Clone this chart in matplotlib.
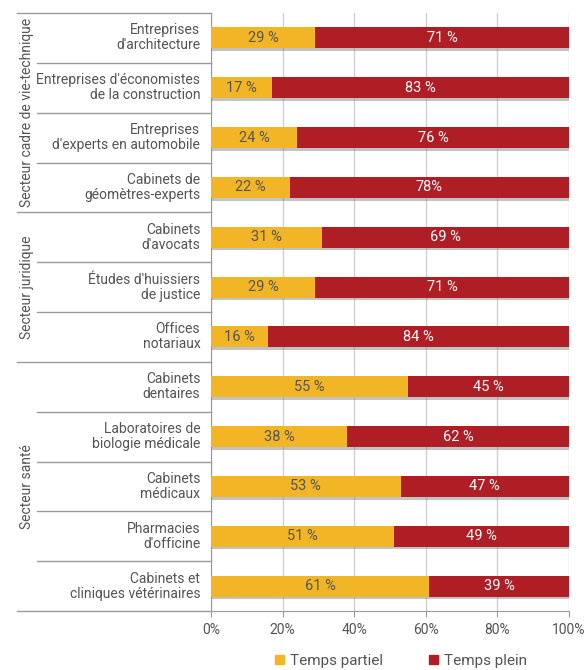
import matplotlib.pyplot as plt
import matplotlib.patheffects as pe
from matplotlib.lines import Line2D
import numpy as np

plt.rcParams['font.family'] = ['Roboto', 'DejaVu Sans']

categories = [
    "Entreprises\nd'architecture",
    "Entreprises d'économistes\nde la construction",
    "Entreprises\nd'experts en automobile",
    "Cabinets de\ngéomètres-experts",
    "Cabinets\nd'avocats",
    "Études d'huissiers\nde justice",
    "Offices\nnotariaux",
    "Cabinets\ndentaires",
    "Laboratoires de\nbiologie médicale",
    "Cabinets\nmédicaux",
    "Pharmacies\nd'officine",
    "Cabinets et\ncliniques vétérinaires",
]
partiel = [29, 17, 24, 22, 31, 29, 16, 55, 38, 53, 51, 61]
plein = [71, 83, 76, 78, 69, 71, 84, 45, 62, 47, 49, 39]
plein_labels = ["71 %", "83 %", "76 %", "78%", "69 %", "71 %", "84 %",
                "45 %", "62 %", "47 %", "49 %", "39 %"]
groups = ["Secteur cadre de vie-technique", "Secteur juridique", "Secteur santé"]
group_sizes = [4, 3, 5]
xticks = [0, 20, 40, 60, 80, 100]

yellow = "#F2B526"
red = "#AE1E24"
text_grey = "#555555"
line_grey = "#9a9a9a"

fig = plt.figure(figsize=(5.87, 6.7), dpi=100)
ax = fig.add_axes([211 / 587, 1 - 611 / 670, 358 / 587, 598 / 670])

n = len(categories)
y = np.arange(n)
shadow = [pe.SimplePatchShadow(offset=(0, -2), shadow_rgbFace="#888888", alpha=0.5), pe.Normal()]
b1 = ax.barh(y, partiel, height=0.42, color=yellow, zorder=3)
b2 = ax.barh(y, plein, left=partiel, height=0.42, color=red, zorder=3)
for b in list(b1) + list(b2):
    b.set_path_effects(shadow)

for i in range(n):
    ax.text(partiel[i] / 2, y[i], f"{partiel[i]} %", ha="center", va="center",
            color=text_grey, fontsize=10.5, zorder=4)
    ax.text(partiel[i] + plein[i] / 2, y[i], plein_labels[i], ha="center", va="center",
            color="white", fontsize=10.5, zorder=4)

ax.set_ylim(n - 0.5, -0.5)
ax.set_xlim(0, 100)
ax.set_yticks([])
ax.set_xticks(xticks)
ax.set_xticklabels([f"{t}%" for t in xticks], color=text_grey, fontsize=10)
ax.tick_params(axis="x", length=4, color=line_grey, pad=5)
for s in ["top", "right"]:
    ax.spines[s].set_visible(False)
ax.spines["left"].set_color(line_grey)
ax.spines["bottom"].set_color(line_grey)
ax.grid(axis="x", color="#d0d0d0", linewidth=1, zorder=0)

# category labels and separator lines on the left
trans = ax.get_yaxis_transform()
for i, lab in enumerate(categories):
    ax.text(-0.03, y[i], lab, transform=trans, ha="right", va="center",
            color=text_grey, fontsize=10, linespacing=1.1)

x_outer = (17 - 211) / 358
x_inner = (37 - 211) / 358
bounds = np.cumsum([0] + group_sizes)
for k in range(n + 1):
    x0 = x_outer if k in bounds else x_inner
    ax.add_line(Line2D([x0, 0], [k - 0.5, k - 0.5], transform=trans,
                       color=line_grey, linewidth=1, clip_on=False))

for g, name in enumerate(groups):
    mid = (bounds[g] + bounds[g + 1] - 1) / 2
    ax.text((27 - 211) / 358, mid, name, transform=trans, rotation=90,
            ha="center", va="center", color=text_grey, fontsize=10)

handles = [plt.Rectangle((0, 0), 1, 1, color=yellow), plt.Rectangle((0, 0), 1, 1, color=red)]
fig.legend(handles, ["Temps partiel", "Temps plein"], loc="center",
           bbox_to_anchor=(401 / 587, 1 - 661 / 670), ncol=2, frameon=False,
           fontsize=11, handlelength=0.6, handleheight=0.6, columnspacing=3.0,
           handletextpad=0.4, labelcolor=text_grey)

fig.savefig("out.png", dpi=100)
